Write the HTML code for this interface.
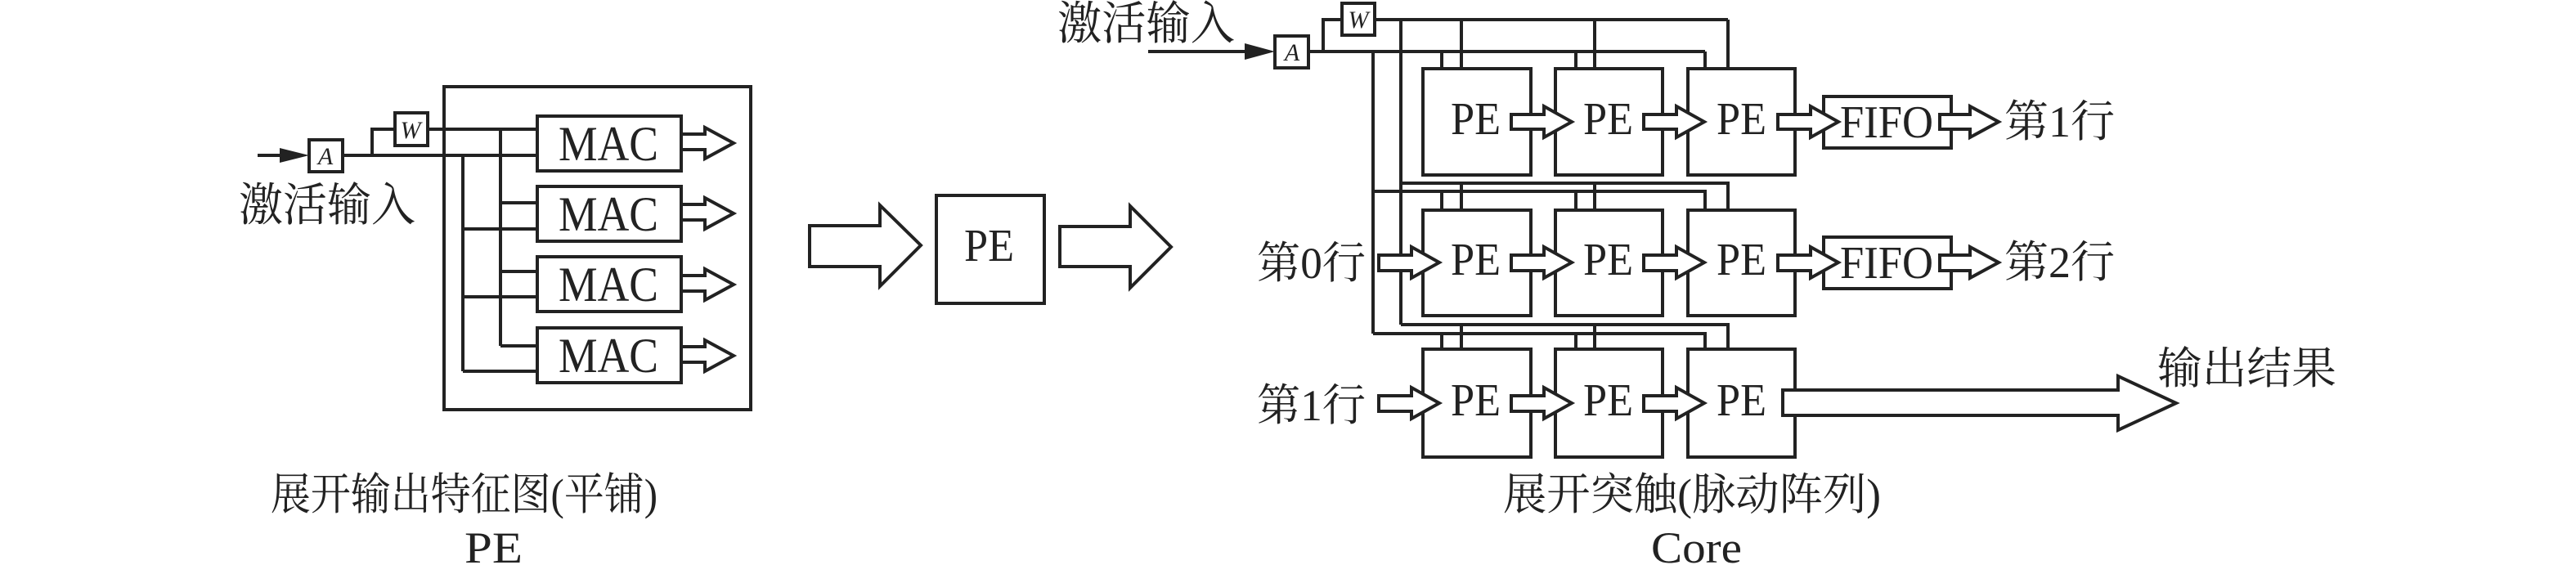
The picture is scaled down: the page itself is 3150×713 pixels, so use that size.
<!DOCTYPE html>
<html><head><meta charset="utf-8"><style>
html,body{margin:0;padding:0;background:#fff;}
svg{display:block;}
text{font-family:"Liberation Serif","Noto Serif CJK SC",serif;fill:#222;}
</style></head><body>
<svg width="3150" height="713" viewBox="0 0 3150 713" xmlns="http://www.w3.org/2000/svg">
<g fill="none" stroke="#222" stroke-width="4" stroke-linejoin="miter">
<!-- LEFT PE -->
<rect x="543" y="106" width="375" height="395"/>
<line x1="315" y1="190" x2="345" y2="190"/>
<polygon points="342,181 378,190 342,199" fill="#222" stroke="none"/>
<rect x="378" y="171" width="41" height="39" fill="#fff"/>
<rect x="483" y="138" width="40" height="40" fill="#fff"/>
<polyline points="419,190 658,190"/>
<polyline points="455,190 455,158 483,158"/>
<line x1="523" y1="158" x2="658" y2="158"/>
<line x1="612" y1="158" x2="612" y2="423"/>
<line x1="566" y1="190" x2="566" y2="454"/>
<line x1="612" y1="248" x2="658" y2="248"/>
<line x1="566" y1="280" x2="658" y2="280"/>
<line x1="612" y1="332" x2="658" y2="332"/>
<line x1="566" y1="363" x2="658" y2="363"/>
<line x1="612" y1="423" x2="658" y2="423"/>
<line x1="566" y1="454" x2="658" y2="454"/>
<rect x="657" y="142" width="176" height="67" fill="#fff"/>
<rect x="657" y="228" width="176" height="67" fill="#fff"/>
<rect x="657" y="314" width="176" height="67" fill="#fff"/>
<rect x="657" y="401" width="176" height="67" fill="#fff"/>
<polygon points="833,164 862,164 862,156 897,175 862,194 862,183 833,183" fill="#fff"/>
<polygon points="833,250 862,250 862,242 897,261 862,280 862,269 833,269" fill="#fff"/>
<polygon points="833,337 862,337 862,329 897,348 862,367 862,356 833,356" fill="#fff"/>
<polygon points="833,424 862,424 862,416 897,435 862,454 862,443 833,443" fill="#fff"/>
<!-- middle -->
<polygon points="990,276 1076,276 1076,251 1126,300 1076,350 1076,326 990,326" fill="#fff"/>
<rect x="1145" y="239" width="132" height="132" fill="#fff"/>
<polygon points="1296,277 1382,277 1382,252 1432,302 1382,352 1382,326 1296,326" fill="#fff"/>
<!-- CORE -->
<line x1="1404" y1="63" x2="1526" y2="63"/>
<polygon points="1522,53 1559,63 1522,73" fill="#222" stroke="none"/>
<rect x="1559" y="44" width="41" height="39" fill="#fff"/>
<rect x="1641" y="4" width="40" height="39" fill="#fff"/>
<line x1="1600" y1="63" x2="2085" y2="63"/>
<polyline points="1618,63 1618,24 1641,24"/>
<line x1="1681" y1="24" x2="2113" y2="24"/>
<line x1="1679" y1="63" x2="1679" y2="408"/>
<line x1="1713" y1="24" x2="1713" y2="397"/>
<line x1="2085" y1="63" x2="2085" y2="84"/>
<line x1="2113" y1="24" x2="2113" y2="84"/>
<line x1="1763" y1="63" x2="1763" y2="84"/>
<line x1="1787" y1="24" x2="1787" y2="84"/>
<line x1="1927" y1="63" x2="1927" y2="84"/>
<line x1="1950" y1="24" x2="1950" y2="84"/>
<!-- row2 feed -->
<polyline points="1713,224 2113,224 2113,257"/>
<polyline points="1679,234 2085,234 2085,257"/>
<line x1="1763" y1="234" x2="1763" y2="257"/><line x1="1787" y1="224" x2="1787" y2="257"/>
<line x1="1927" y1="234" x2="1927" y2="257"/><line x1="1950" y1="224" x2="1950" y2="257"/>
<!-- row3 feed -->
<polyline points="1713,397 2113,397 2113,427"/>
<polyline points="1679,408 2085,408 2085,427"/>
<line x1="1763" y1="408" x2="1763" y2="427"/><line x1="1787" y1="397" x2="1787" y2="427"/>
<line x1="1927" y1="408" x2="1927" y2="427"/><line x1="1950" y1="397" x2="1950" y2="427"/>
<!-- PE boxes -->
<rect x="1740" y="84" width="132" height="130" fill="#fff"/>
<rect x="1902" y="84" width="131" height="130" fill="#fff"/>
<rect x="2064" y="84" width="131" height="130" fill="#fff"/>
<rect x="1740" y="257" width="132" height="129" fill="#fff"/>
<rect x="1902" y="257" width="131" height="129" fill="#fff"/>
<rect x="2064" y="257" width="131" height="129" fill="#fff"/>
<rect x="1740" y="427" width="132" height="132" fill="#fff"/>
<rect x="1902" y="427" width="131" height="132" fill="#fff"/>
<rect x="2064" y="427" width="131" height="132" fill="#fff"/>
<!-- FIFO -->
<rect x="2230" y="118" width="156" height="63" fill="#fff"/>
<rect x="2230" y="290" width="156" height="63" fill="#fff"/>
<!-- small arrows row1 (center 149) -->
<polygon points="1848,140 1888,140 1888,130 1922,149 1888,168 1888,158 1848,158" fill="#fff"/>
<polygon points="2010,140 2050,140 2050,130 2084,149 2050,168 2050,158 2010,158" fill="#fff"/>
<polygon points="2174,140 2214,140 2214,130 2248,149 2214,168 2214,158 2174,158" fill="#fff"/>
<polygon points="2372,140 2409,140 2409,130 2444,149 2409,168 2409,158 2372,158" fill="#fff"/>
<!-- row2 (center 321) -->
<polygon points="1686,312 1726,312 1726,302 1760,321 1726,340 1726,331 1686,331" fill="#fff"/>
<polygon points="1848,312 1888,312 1888,302 1922,321 1888,340 1888,331 1848,331" fill="#fff"/>
<polygon points="2010,312 2050,312 2050,302 2084,321 2050,340 2050,331 2010,331" fill="#fff"/>
<polygon points="2174,312 2214,312 2214,302 2248,321 2214,340 2214,331 2174,331" fill="#fff"/>
<polygon points="2372,312 2409,312 2409,302 2444,321 2409,340 2409,331 2372,331" fill="#fff"/>
<!-- row3 (center 493) -->
<polygon points="1686,484 1726,484 1726,474 1760,493 1726,512 1726,503 1686,503" fill="#fff"/>
<polygon points="1848,484 1888,484 1888,474 1922,493 1888,512 1888,503 1848,503" fill="#fff"/>
<polygon points="2010,484 2050,484 2050,474 2084,493 2050,512 2050,503 2010,503" fill="#fff"/>
<polygon points="2180,477 2590,477 2590,460 2661,493 2590,526 2590,508 2180,508" fill="#fff"/>
</g>
<!-- TEXT -->
<g font-size="56">
<text x="292" y="270" textLength="216" lengthAdjust="spacingAndGlyphs">激活输入</text>
<text x="1293" y="48" textLength="217" lengthAdjust="spacingAndGlyphs">激活输入</text>
</g>
<g font-size="30" font-style="italic" text-anchor="middle">
<text x="398" y="201">A</text>
<text x="502" y="169">W</text>
<text x="1580" y="74">A</text>
<text x="1661" y="34">W</text>
</g>
<g font-size="60">
<text x="683" y="196" textLength="122" lengthAdjust="spacingAndGlyphs">MAC</text>
<text x="683" y="282" textLength="122" lengthAdjust="spacingAndGlyphs">MAC</text>
<text x="683" y="368" textLength="122" lengthAdjust="spacingAndGlyphs">MAC</text>
<text x="683" y="455" textLength="122" lengthAdjust="spacingAndGlyphs">MAC</text>
</g>
<g font-size="56">
<text x="1179" y="319" textLength="61" lengthAdjust="spacingAndGlyphs">PE</text>
<text x="1774" y="164" textLength="61" lengthAdjust="spacingAndGlyphs">PE</text>
<text x="1936" y="164" textLength="61" lengthAdjust="spacingAndGlyphs">PE</text>
<text x="2099" y="164" textLength="61" lengthAdjust="spacingAndGlyphs">PE</text>
<text x="1774" y="336" textLength="61" lengthAdjust="spacingAndGlyphs">PE</text>
<text x="1936" y="336" textLength="61" lengthAdjust="spacingAndGlyphs">PE</text>
<text x="2099" y="336" textLength="61" lengthAdjust="spacingAndGlyphs">PE</text>
<text x="1774" y="508" textLength="61" lengthAdjust="spacingAndGlyphs">PE</text>
<text x="1936" y="508" textLength="61" lengthAdjust="spacingAndGlyphs">PE</text>
<text x="2099" y="508" textLength="61" lengthAdjust="spacingAndGlyphs">PE</text>
<text x="2250" y="168" textLength="114" lengthAdjust="spacingAndGlyphs">FIFO</text>
<text x="2250" y="340" textLength="114" lengthAdjust="spacingAndGlyphs">FIFO</text>
</g>
<g font-size="54">
<text x="2451" y="167" textLength="135" lengthAdjust="spacingAndGlyphs">第1行</text>
<text x="2451" y="339" textLength="135" lengthAdjust="spacingAndGlyphs">第2行</text>
<text x="1537" y="340" textLength="133" lengthAdjust="spacingAndGlyphs">第0行</text>
<text x="1537" y="514" textLength="133" lengthAdjust="spacingAndGlyphs">第1行</text>
<text x="2638" y="469" textLength="219" lengthAdjust="spacingAndGlyphs">输出结果</text>
</g>
<g font-size="54">
<text x="331" y="623" textLength="473" lengthAdjust="spacingAndGlyphs">展开输出特征图(平铺)</text>
<text x="568" y="688" textLength="71" lengthAdjust="spacingAndGlyphs">PE</text>
<text x="1838" y="623" textLength="462" lengthAdjust="spacingAndGlyphs">展开突触(脉动阵列)</text>
<text x="2019" y="688" textLength="111" lengthAdjust="spacingAndGlyphs">Core</text>
</g>
</svg>
</body></html>
